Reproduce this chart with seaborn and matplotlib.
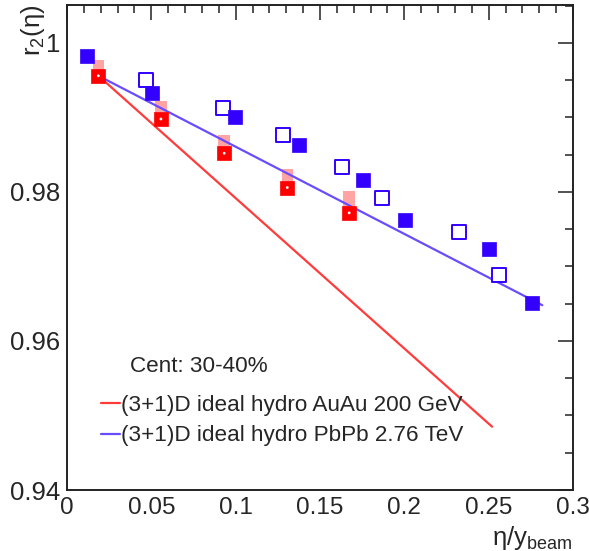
import numpy as np
import pandas as pd
import matplotlib
matplotlib.use("Agg")
import matplotlib.pyplot as plt
import seaborn as sns
from matplotlib.lines import Line2D

# ---- data ----
auau_x = [0.0186, 0.0557, 0.0932, 0.1306, 0.1673]
auau_y = [0.9956, 0.9898, 0.9852, 0.9806, 0.9772]
auau_sys = [0.0021, 0.0024, 0.0025, 0.0025, 0.0029]

pbpb_fill_x = [0.0120, 0.0502, 0.0999, 0.1377, 0.1753, 0.2003, 0.2501, 0.2755]
pbpb_fill_y = [0.9983, 0.9933, 0.9901, 0.9863, 0.9816, 0.9762, 0.9724, 0.9651]

pbpb_open_x = [0.0466, 0.0927, 0.1278, 0.1628, 0.1865, 0.2326, 0.2563]
pbpb_open_y = [0.9950, 0.9913, 0.9876, 0.9834, 0.9792, 0.9746, 0.9689]

model_auau_x = [0.0186, 0.2520]
model_auau_y = [0.9956, 0.9485]
model_pbpb_x = [0.0186, 0.2818]
model_pbpb_y = [0.9956, 0.9648]

xticks = [0, 0.05, 0.1, 0.15, 0.2, 0.25, 0.3]
xticklabels = ["0", "0.05", "0.1", "0.15", "0.2", "0.25", "0.3"]
yticks = [0.94, 0.96, 0.98, 1.0]
yticklabels = ["0.94", "0.96", "0.98", "1"]

legend_labels = ["(3+1)D ideal hydro AuAu 200 GeV", "(3+1)D ideal hydro PbPb 2.76 TeV"]
cent_text = "Cent: 30-40%"

# ---- style ----
sns.set_theme(style="white")
plt.rcParams["font.family"] = ["Liberation Sans", "DejaVu Sans"]
plt.rcParams["mathtext.fontset"] = "custom"
plt.rcParams["mathtext.rm"] = "Liberation Sans"
plt.rcParams["mathtext.it"] = "Liberation Sans"

RED = "#ff0000"
PINK = "#ffa3a3"
BLUE = "#3300ff"
LRED = "#ff3b3b"
LBLUE = "#6a4cff"

fig = plt.figure(figsize=(5.89, 5.51), dpi=100)
ax = fig.add_axes([67 / 589, 1 - 490 / 551, (573 - 67) / 589, (490 - 5) / 551])

df_auau = pd.DataFrame({"x": auau_x, "y": auau_y, "sys": auau_sys})
df_fill = pd.DataFrame({"x": pbpb_fill_x, "y": pbpb_fill_y})
df_open = pd.DataFrame({"x": pbpb_open_x, "y": pbpb_open_y})
df_m1 = pd.DataFrame({"x": model_auau_x, "y": model_auau_y})
df_m2 = pd.DataFrame({"x": model_pbpb_x, "y": model_pbpb_y})

# systematic boxes
ax.bar(df_auau["x"], df_auau["sys"], bottom=df_auau["y"], width=0.0068,
       color=PINK, edgecolor="none", zorder=2)

# model lines
sns.lineplot(data=df_m1, x="x", y="y", ax=ax, color=LRED, lw=1.6, zorder=3)
sns.lineplot(data=df_m2, x="x", y="y", ax=ax, color=LBLUE, lw=1.6, zorder=3)

# data points
sns.scatterplot(data=df_open, x="x", y="y", ax=ax, marker="s", s=95,
                facecolor="white", edgecolor=BLUE, linewidth=1.4, zorder=4)
sns.scatterplot(data=df_fill, x="x", y="y", ax=ax, marker="s", s=110,
                color=BLUE, edgecolor=BLUE, linewidth=0.5, zorder=4)
sns.scatterplot(data=df_auau, x="x", y="y", ax=ax, marker="s", s=105,
                color=RED, edgecolor=RED, linewidth=0.5, zorder=5)
sns.scatterplot(data=df_auau, x="x", y="y", ax=ax, marker="o", s=4,
                color="white", edgecolor="none", zorder=6)

ax.set_xlim(0, 0.3)
ax.set_ylim(0.94, 1.0051)
ax.set_xticks(xticks)
ax.set_xticklabels(xticklabels)
ax.set_yticks(yticks)
ax.set_yticklabels(yticklabels)
ax.set_xticks(np.arange(0, 0.3001, 0.01), minor=True)
ax.set_yticks(np.arange(0.94, 1.0051, 0.005), minor=True)
ax.tick_params(which="both", direction="in", top=True, right=True,
               color="#222222", width=1.1)
ax.tick_params(which="major", length=11, labelsize=17.5, pad=5)
ax.tick_params(axis="y", which="major", labelsize=18.5)
ax.tick_params(which="minor", length=5.5)
for sp in ax.spines.values():
    sp.set_linewidth(1.4)
    sp.set_color("#222222")

ax.set_ylabel(r"r$_2$(η)", fontsize=18.5, loc="top")
ax.yaxis.set_label_coords(-0.04, 1.0)
ax.set_xlabel(r"η/y$_{\rm beam}$", fontsize=18.5, loc="right", labelpad=2)
ax.xaxis.set_label_coords(1.0, -0.07)

# legend
handles = [Line2D([0], [0], color=LRED, lw=1.6), Line2D([0], [0], color=LBLUE, lw=1.6)]
leg = ax.legend(handles, legend_labels, loc="upper left",
                bbox_to_anchor=((101 - 67) / 506, (490 - 395) / 485),
                frameon=False, fontsize=16.2, handlelength=0.85,
                handletextpad=0.05, labelspacing=0.42, borderpad=0, borderaxespad=0)
ax.text((130 - 67) / 506, (490 - 367) / 485, cent_text, transform=ax.transAxes,
        fontsize=16.2, va="center", ha="left")

ax.grid(False)
fig.savefig("out.png", dpi=100)
